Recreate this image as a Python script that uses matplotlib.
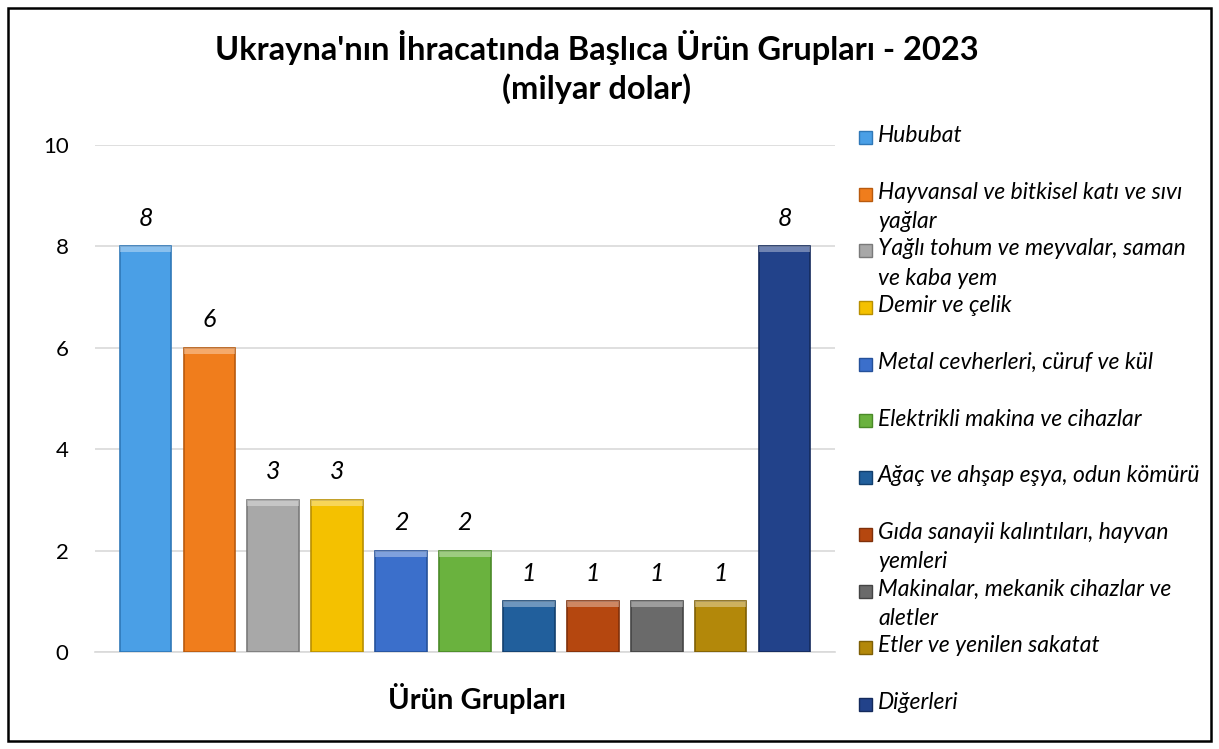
import matplotlib.pyplot as plt
from matplotlib.patches import Rectangle

# =========================
# DATOS
# =========================
categorias = [
    "Hububat",
    "Hayvansal ve bitkisel katı ve sıvı\nyağlar",
    "Yağlı tohum ve meyvalar, saman\nve kaba yem",
    "Demir ve çelik",
    "Metal cevherleri, cüruf ve kül",
    "Elektrikli makina ve cihazlar",
    "Ağaç ve ahşap eşya, odun kömürü",
    "Gıda sanayii kalıntıları, hayvan\nyemleri",
    "Makinalar, mekanik cihazlar ve\naletler",
    "Etler ve yenilen sakatat",
    "Diğerleri",
]
valores = [8, 6, 3, 3, 2, 2, 1, 1, 1, 1, 8]
colores = ["#4A9FE6", "#F07D1C", "#A8A8A8", "#F4C100", "#3B6FCB", "#6AB23E",
           "#215F9C", "#B5470F", "#6A6A6A", "#B3880A", "#22428A"]
bordes = ["#2F78B8", "#B85A0E", "#7A7A7A", "#B88F00", "#25519A", "#4A8A28",
          "#123F6E", "#7F300A", "#444444", "#7E5F05", "#142A5C"]
yticks = [0, 2, 4, 6, 8, 10]

plt.rcParams["font.family"] = ["Lato", "DejaVu Sans"]

fig = plt.figure(figsize=(12.19, 7.49), dpi=100)
W, H = 1219, 749
ax = fig.add_axes([95 / W, 1 - 652 / H, (835 - 95) / W, (652 - 145) / H])

x = list(range(len(valores)))
ax.bar(x, valores, width=0.81, color=colores, edgecolor=bordes, linewidth=1.2, zorder=3)
# bisel claro arriba
ax.bar(x, [0.12] * len(valores), bottom=[v - 0.12 for v in valores], width=0.81,
       color="white", alpha=0.35, linewidth=0, zorder=4)

for xi, v in zip(x, valores):
    ax.text(xi, v + 0.33, str(v), ha="center", va="bottom", fontsize=18,
            fontstyle="italic", color="#000000")

ax.set_ylim(0, 10)
ax.set_xlim(-0.79, len(valores) - 1 + 0.79)
ax.set_yticks(yticks)
ax.set_yticklabels([str(t) for t in yticks], fontsize=16)
ax.set_xticks([])
ax.tick_params(axis="y", length=0, pad=19)
ax.grid(axis="y", color="#D9D9D9", linewidth=1.2, zorder=0)
for s in ["top", "right", "left"]:
    ax.spines[s].set_visible(False)
ax.spines["bottom"].set_color("#D9D9D9")
ax.spines["bottom"].set_linewidth(1.2)

fig.text(477 / W, 1 - 698 / H, "Ürün Grupları", ha="center", va="center",
         fontsize=21, fontweight="bold")

fig.text(597 / W, 1 - 67 / H, "Ukrayna'nın İhracatında Başlıca Ürün Grupları - 2023\n(milyar dolar)",
         ha="center", va="center", fontsize=23.5, fontweight="bold", linespacing=1.3)

# leyenda manual
y0 = 125
paso = 56.7
for i, (lab, c, b) in enumerate(zip(categorias, colores, bordes)):
    ytop = y0 + i * paso
    fig.patches.append(Rectangle((859 / W, 1 - (ytop + 19) / H), 13 / W, 13 / H,
                                 transform=fig.transFigure, facecolor=c, edgecolor=b,
                                 linewidth=1))
    fig.text(878 / W, 1 - ytop / H, lab, ha="left", va="top", fontsize=16.5,
             fontstyle="italic", linespacing=1.5)

# borde exterior
fig.patches.append(Rectangle((8 / W, 8 / H), 1 - 16 / W, 1 - 16 / H, transform=fig.transFigure,
                             fill=False, edgecolor="black", linewidth=1.8))

fig.savefig("out.png", dpi=100)
